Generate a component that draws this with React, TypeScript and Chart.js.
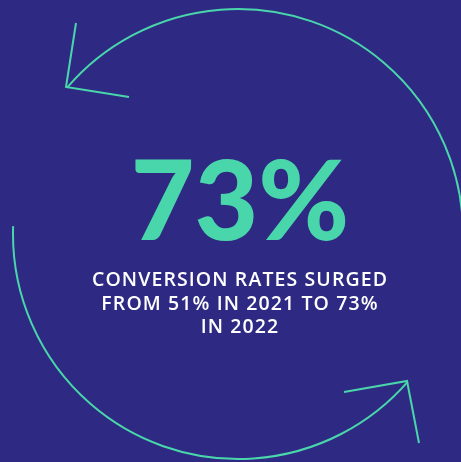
import React, { useEffect, useRef } from "react";
import { Chart, registerables } from "chart.js";

Chart.register(...registerables);

// ---- data ----
const headlineValue = "73%";
const captionLines = ["CONVERSION RATES SURGED", "FROM 51% IN 2021 TO 73%", "IN 2022"];
const circleCenter = [238, 234];
const circleRadius = 225;
const arcStartDeg = [-139.5, 41];
const arcEndDeg = [3, 182];
const arrowTopHead = [
  { x: 76, y: 23 },
  { x: 66, y: 87 },
  { x: 129, y: 97 },
];
const arrowBottomHead = [
  { x: 344, y: 392 },
  { x: 407, y: 381 },
  { x: 419, y: 443 },
];

const BG = "#2E2A83";
const TEAL = "#4AD6AB";
const W = 461;
const H = 462;

export default function App() {
  const ref = useRef<HTMLCanvasElement>(null);

  useEffect(() => {
    document.body.style.margin = "0";
    const canvas = ref.current;
    if (!canvas) return;

    const arcPlugin = {
      id: "arcs",
      beforeDatasetsDraw(chart: any) {
        const { ctx, scales } = chart;
        const xs = scales.x;
        const ys = scales.y;
        const cx = xs.getPixelForValue(circleCenter[0]);
        const cy = ys.getPixelForValue(circleCenter[1]);
        const r = xs.getPixelForValue(circleCenter[0] + circleRadius) - cx;
        ctx.save();
        ctx.strokeStyle = TEAL;
        ctx.lineWidth = 2;
        for (let i = 0; i < arcStartDeg.length; i++) {
          ctx.beginPath();
          ctx.arc(cx, cy, r, (arcStartDeg[i] * Math.PI) / 180, (arcEndDeg[i] * Math.PI) / 180, false);
          ctx.stroke();
        }
        ctx.restore();
      },
    };

    const textPlugin = {
      id: "texts",
      afterDatasetsDraw(chart: any) {
        const { ctx, scales } = chart;
        const xs = scales.x;
        const ys = scales.y;
        ctx.save();
        ctx.textAlign = "center";
        ctx.textBaseline = "alphabetic";
        ctx.fillStyle = TEAL;
        ctx.font = "900 110px Lato";
        ctx.fillText(headlineValue, xs.getPixelForValue(240), ys.getPixelForValue(240));
        ctx.fillStyle = "#FFFFFF";
        ctx.font = '600 19.5px "Open Sans"';
        (ctx as any).letterSpacing = "1.1px";
        const baselines = [286, 310, 333];
        captionLines.forEach((line, i) => {
          ctx.fillText(line, xs.getPixelForValue(240), ys.getPixelForValue(baselines[i]));
        });
        ctx.restore();
      },
    };

    const chart = new Chart(canvas, {
      type: "scatter",
      data: {
        datasets: [
          {
            data: arrowTopHead,
            showLine: true,
            borderColor: TEAL,
            borderWidth: 2,
            pointRadius: 0,
            borderJoinStyle: "miter",
          } as any,
          {
            data: arrowBottomHead,
            showLine: true,
            borderColor: TEAL,
            borderWidth: 2,
            pointRadius: 0,
            borderJoinStyle: "miter",
          } as any,
        ],
      },
      options: {
        animation: false,
        responsive: false,
        maintainAspectRatio: false,
        layout: { padding: 0 },
        plugins: {
          legend: { display: false },
          tooltip: { enabled: false },
        },
        scales: {
          x: { type: "linear", min: 0, max: W, display: false },
          y: { type: "linear", min: 0, max: H, reverse: true, display: false },
        },
      },
      plugins: [arcPlugin, textPlugin],
    });

    return () => chart.destroy();
  }, []);

  return (
    <div style={{ position: "fixed", left: 0, top: 0, width: W, height: H, background: BG, overflow: "hidden" }}>
      <canvas ref={ref} width={W} height={H} style={{ display: "block" }} />
    </div>
  );
}
